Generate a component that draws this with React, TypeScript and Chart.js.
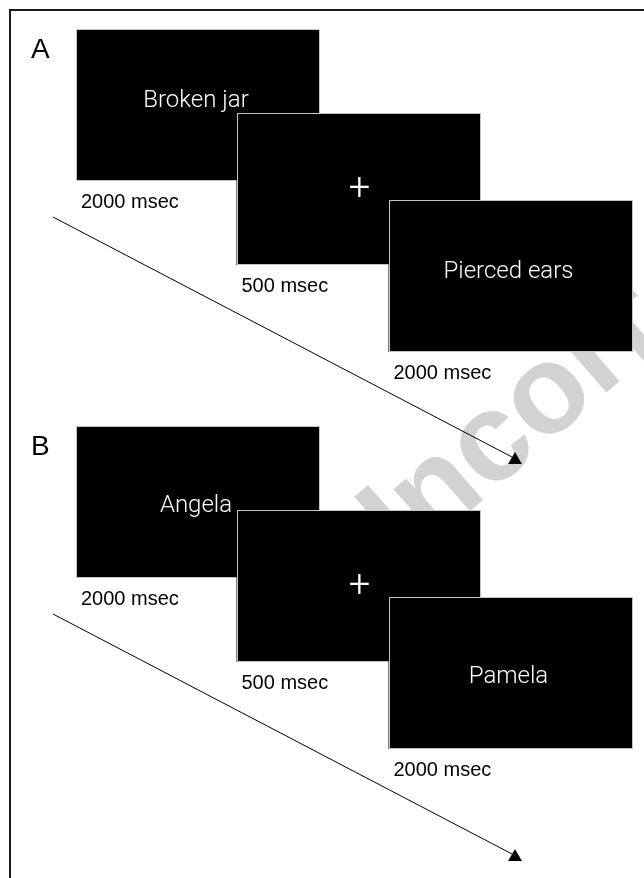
import React, { useEffect, useRef } from "react";
import { Chart, registerables } from "chart.js";

Chart.register(...registerables);

// ---- content ----
const PANELS = ["A", "B"];
const STIMULI_A = ["Broken jar", "+", "Pierced ears"];
const STIMULI_B = ["Angela", "+", "Pamela"];
const DURATIONS_MS = [2000, 500, 2000];
const WATERMARK = "Uncorrected proof";

// ---- layout (page units of the hidden linear scales) ----
const W = 644;
const H = 878;
const PANEL_DY = [0, 397];
const SCREEN_X = [76, 236.5, 388.5];
const SCREEN_Y = [29, 113, 200];
const SCREEN_W = 244;
const SCREEN_H = 152;
const WORD_BASELINE = [78, 86];
const ARROW_START = { x: 53, y: 217 };
const ARROW_END = { x: 512, y: 457 };
const HEAD_AT = { x: 515, y: 460 };

const STIMULI = [STIMULI_A, STIMULI_B];

const diagramPlugin = {
  id: "diagram",
  beforeDatasetsDraw(chart: any) {
    const { ctx, scales } = chart;
    const px = (v: number) => scales.x.getPixelForValue(v);
    const py = (v: number) => scales.y.getPixelForValue(v);
    // watermark
    ctx.save();
    ctx.translate(px(362), py(605));
    ctx.rotate((-41 * Math.PI) / 180);
    ctx.font = 'bold 126px "Liberation Sans", Arial, sans-serif';
    ctx.fillStyle = "#d2d2d4";
    ctx.textBaseline = "alphabetic";
    ctx.textAlign = "left";
    ctx.fillText(WATERMARK, 0, 0);
    ctx.restore();
    // frame
    ctx.save();
    ctx.strokeStyle = "#1a1a1a";
    ctx.lineWidth = 2;
    ctx.beginPath();
    ctx.moveTo(px(10), py(H));
    ctx.lineTo(px(10), py(10));
    ctx.lineTo(px(W), py(10));
    ctx.stroke();
    ctx.restore();
  },
  afterDatasetsDraw(chart: any) {
    const { ctx, scales } = chart;
    const px = (v: number) => scales.x.getPixelForValue(v);
    const py = (v: number) => scales.y.getPixelForValue(v);
    ctx.save();
    PANELS.forEach((letter, p) => {
      const dy = PANEL_DY[p];
      ctx.fillStyle = "#000";
      ctx.font = '28px "Liberation Sans", Arial, sans-serif';
      ctx.textAlign = "left";
      ctx.textBaseline = "alphabetic";
      ctx.fillText(letter, px(31), py(58 + dy));
      STIMULI[p].forEach((word, i) => {
        const x0 = px(SCREEN_X[i]);
        const y0 = py(SCREEN_Y[i] + dy);
        const x1 = px(SCREEN_X[i] + SCREEN_W);
        const y1 = py(SCREEN_Y[i] + dy + SCREEN_H);
        ctx.fillStyle = "#000";
        ctx.fillRect(x0, y0, x1 - x0, y1 - y0);
        ctx.strokeStyle = "#c4c4c4";
        ctx.lineWidth = 1;
        ctx.strokeRect(Math.round(x0) + 0.5, Math.round(y0) + 0.5, Math.round(x1 - x0) - 1, Math.round(y1 - y0) - 1);
        ctx.fillStyle = "#fff";
        ctx.textAlign = "center";
        if (word === "+") {
          ctx.font = '300 38px Roboto, "Liberation Sans", sans-serif';
          ctx.textBaseline = "middle";
          ctx.fillText(word, (x0 + x1) / 2 + 1, (y0 + y1) / 2 + 1);
        } else {
          ctx.font = '300 24px Roboto, "Liberation Sans", sans-serif';
          ctx.textBaseline = "alphabetic";
          ctx.fillText(word, (x0 + x1) / 2 - 2, py(SCREEN_Y[i] + dy + WORD_BASELINE[p]));
        }
        ctx.fillStyle = "#000";
        ctx.textAlign = "left";
        ctx.textBaseline = "alphabetic";
        ctx.font = '20px "Liberation Sans", Arial, sans-serif';
        ctx.fillText(`${DURATIONS_MS[i]} msec`, x0 + 5, py(SCREEN_Y[i] + dy + SCREEN_H + 27));
      });
    });
    ctx.restore();
  },
};

export default function App() {
  const ref = useRef<HTMLCanvasElement | null>(null);
  useEffect(() => {
    if (!ref.current) return;
    const arrowSets = PANEL_DY.map((dy) => ({
      type: "line" as const,
      data: [
        { x: ARROW_START.x, y: ARROW_START.y + dy },
        { x: ARROW_END.x, y: ARROW_END.y + dy },
      ],
      borderColor: "#000",
      borderWidth: 1,
      pointRadius: 0,
      showLine: true,
      fill: false,
      clip: false,
    }));
    const headSet = {
      type: "scatter" as const,
      data: PANEL_DY.map((dy) => ({ x: HEAD_AT.x, y: HEAD_AT.y + dy })),
      pointStyle: "triangle",
      pointRadius: 8,
      backgroundColor: "#000",
      borderWidth: 0,
      clip: false,
    };
    const chart = new Chart(ref.current, {
      type: "scatter",
      data: { datasets: [...arrowSets, headSet] as any },
      options: {
        animation: false,
        responsive: false,
        maintainAspectRatio: false,
        devicePixelRatio: 1,
        layout: { padding: 0, autoPadding: false },
        events: [],
        scales: {
          x: { type: "linear", min: 0, max: W, display: false },
          y: { type: "linear", min: 0, max: H, reverse: true, display: false },
        },
        plugins: { legend: { display: false }, tooltip: { enabled: false } },
      },
      plugins: [diagramPlugin],
    });
    return () => chart.destroy();
  }, []);
  return (
    <div style={{ position: "absolute", left: 0, top: 0, width: W, height: H, background: "#fff" }}>
      <canvas ref={ref} width={W} height={H} style={{ display: "block", width: W, height: H }} />
    </div>
  );
}
